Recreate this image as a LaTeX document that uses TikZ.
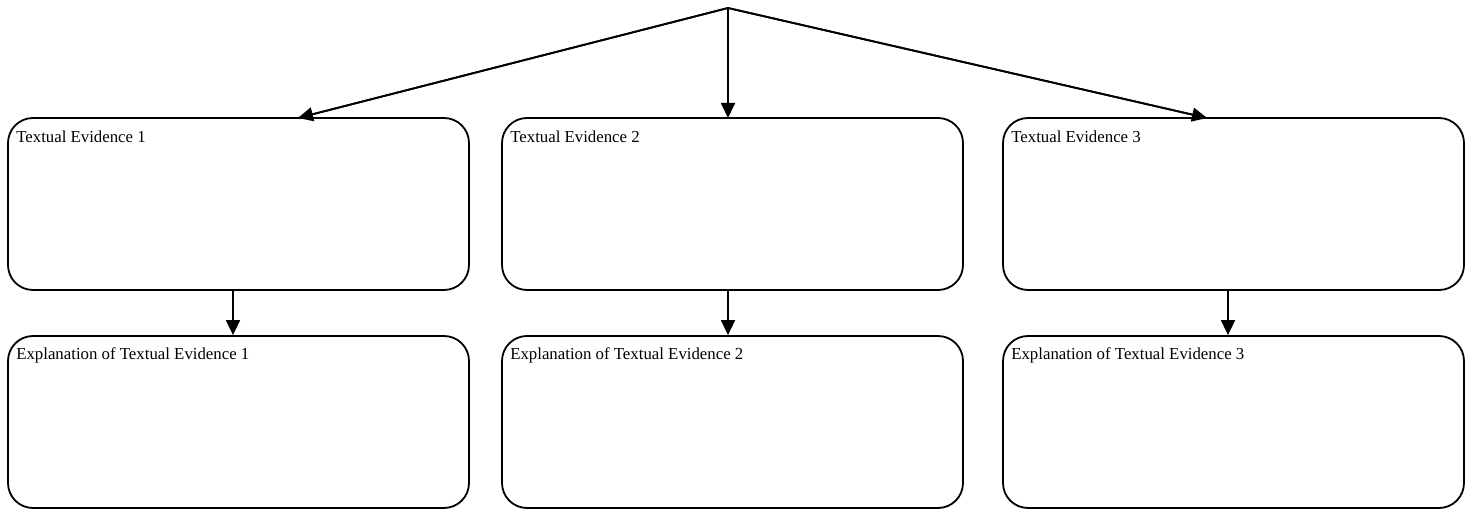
\documentclass[tikz,border=0pt]{standalone}
\usepackage{fontspec}
\setmainfont{Liberation Serif}
\usetikzlibrary{arrows.meta,calc}
\begin{document}
\begin{tikzpicture}[x=1pt,y=-1pt,
  box/.style={draw, line width=1.8pt, rounded corners=25pt, minimum width=461pt, minimum height=172pt, inner sep=0pt},
  txt/.style={anchor=base west, inner sep=0pt, font=\fontsize{16.8}{19}\selectfont},
  conn/.style={line width=1.8pt, -{Triangle[length=15pt,width=14pt]}}]
\useasboundingbox (0,0) rectangle (1473,510);
\node[box] (b1) at (238.5,204) {};
\node[box] (b2) at (732.5,204) {};
\node[box] (b3) at (1233.5,204) {};
\node[box] (e1) at (238.5,422) {};
\node[box] (e2) at (732.5,422) {};
\node[box] (e3) at (1233.5,422) {};
\node[txt] (l1) at ($(b1.north west)+(9,25)$) {Textual Evidence 1};
\node[txt] (l2) at ($(b2.north west)+(9,25)$) {Textual Evidence 2};
\node[txt] (l3) at ($(b3.north west)+(9,25)$) {Textual Evidence 3};
\node[txt] (m1) at ($(e1.north west)+(9,24)$) {Explanation of Textual Evidence 1};
\node[txt] (m2) at ($(e2.north west)+(9,24)$) {Explanation of Textual Evidence 2};
\node[txt] (m3) at ($(e3.north west)+(9,24)$) {Explanation of Textual Evidence 3};
\coordinate (apex) at (728,8);
\coordinate (t1) at (298,118);
\coordinate (t2) at (728,118);
\coordinate (t3) at (1207,118);
\draw[line width=1.8pt] (t1) -- (apex) -- (t3);
\draw[conn] (apex) -- (t1);
\draw[conn] (apex) -- (t2);
\draw[conn] (apex) -- (t3);
\draw[conn] (b1.south -| 233,0) -- (e1.north -| 233,0);
\draw[conn] (b2.south -| 728,0) -- (e2.north -| 728,0);
\draw[conn] (b3.south -| 1228,0) -- (e3.north -| 1228,0);
\end{tikzpicture}
\end{document}
